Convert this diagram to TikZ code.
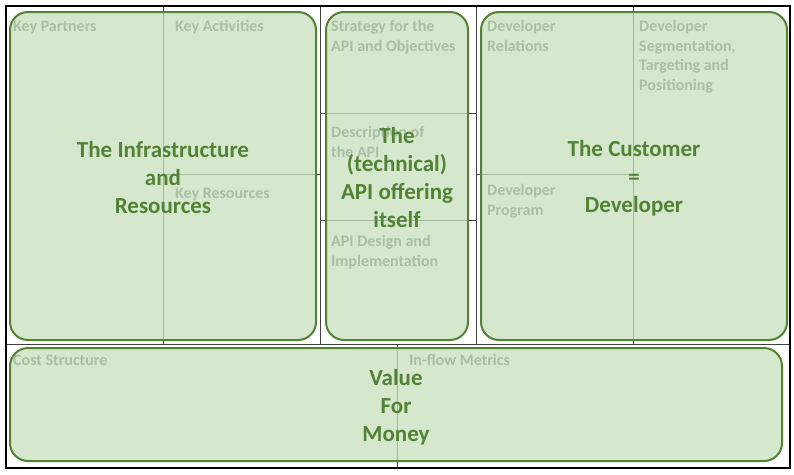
\documentclass[tikz,border=0pt]{standalone}
\usepackage{fontspec}
\setmainfont{Carlito}
\definecolor{boxfill}{RGB}{199,224,188}
\definecolor{boxline}{RGB}{84,130,53}
\definecolor{gridline}{RGB}{64,64,64}
\definecolor{lbl}{RGB}{89,89,89}
\tikzset{
  gridl/.style={draw=gridline, line width=1pt},
  panel/.style={draw=boxline, line width=2pt, fill=boxfill, fill opacity=0.75, draw opacity=1, rounded corners=18pt},
  lab/.style={anchor=base west, inner sep=0pt, text=lbl, font=\bfseries\fontsize{16}{20}\selectfont},
  big/.style={anchor=center, inner sep=0pt, align=center, text=boxline, font=\bfseries\fontsize{23}{28}\selectfont},
}
\begin{document}
\begin{tikzpicture}[x=1pt,y=-1pt]
\useasboundingbox (0,0) rectangle (794,474);
\fill[white] (0,0) rectangle (794,474);
% grid
\coordinate (tl) at (6,6);
\coordinate (br) at (790,468);
\draw[gridl] (163,6) -- (163,344);
\draw[gridl] (320,6) -- (320,344);
\draw[gridl] (476,6) -- (476,344);
\draw[gridl] (633,6) -- (633,344);
\draw[gridl] (6,344) -- (790,344);
\draw[gridl] (397,344) -- (397,468);
\draw[gridl] (163,174) -- (320,174);
\draw[gridl] (320,113) -- (476,113);
\draw[gridl] (320,220) -- (476,220);
\draw[gridl] (476,174) -- (633,174);
\draw[black, line width=2.5pt] (tl) rectangle (br);
% labels
\node[lab] (kp) at (13,31) {Key Partners};
\node[lab] (ka) at (175,31) {Key Activities};
\node[lab] (kr) at (175,198) {Key Resources};
\node[lab] (s1) at (331,31) {Strategy for the};
\node[lab] (s2) at (331,51) {API and Objectives};
\node[lab] (d1) at (331,137) {Description of};
\node[lab] (d2) at (331,157) {the API};
\node[lab] (a1) at (331,246) {API Design and};
\node[lab] (a2) at (331,266) {Implementation};
\node[lab] (r1) at (487,31) {Developer};
\node[lab] (r2) at (487,51) {Relations};
\node[lab] (g1) at (639,31) {Developer};
\node[lab] (g2) at (639,51) {Segmentation,};
\node[lab] (g3) at (639,70) {Targeting and};
\node[lab] (g4) at (639,90) {Positioning};
\node[lab] (p1) at (487,195) {Developer};
\node[lab] (p2) at (487,215) {Program};
\node[lab] (cs) at (13,365) {Cost Structure};
\node[lab] (im) at (409,365) {In-flow Metrics};
% panels
\draw[panel] (10,12) rectangle (316,340);
\draw[panel] (326,12) rectangle (468,340);
\draw[panel] (481,12) rectangle (787,340);
\draw[panel] (10,348) rectangle (782,461);
% big texts
\node[big] (infra) at (163,178) {The Infrastructure\\and\\Resources};
\node[big] (api) at (397,178) {The\\(technical)\\API offering\\itself};
\node[big] (cust) at (634,178) {The Customer\\=\\Developer};
\node[big] (vfm) at (396,407) {Value\\For\\Money};
\end{tikzpicture}
\end{document}
